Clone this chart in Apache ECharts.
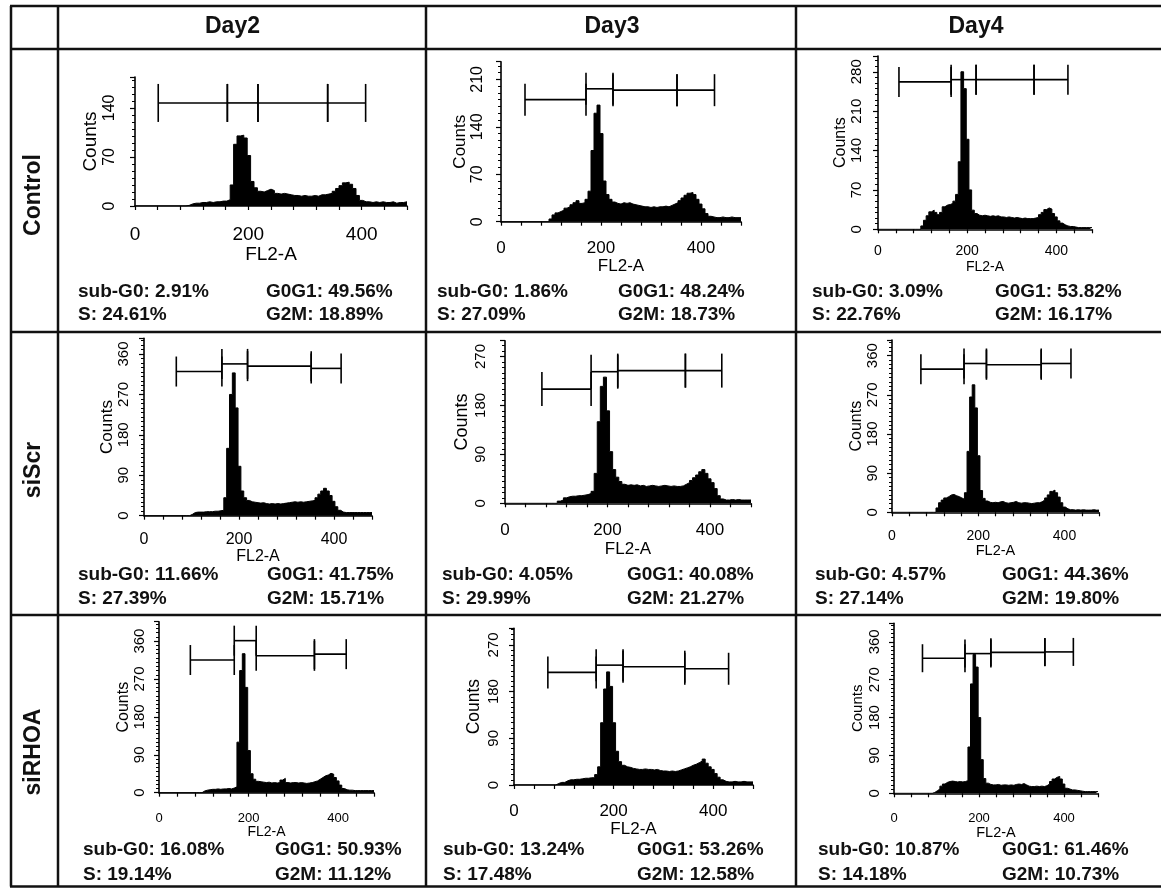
<!DOCTYPE html>
<html><head><meta charset="utf-8">
<script src="https://cdn.jsdelivr.net/npm/echarts@6/dist/echarts.min.js"></script>
<style>html,body{margin:0;padding:0;background:#fff}#c{width:1161px;height:888px}</style>
</head><body><div id="c"></div>
<script>
// ---------- categories ----------
const days = ['Day2', 'Day3', 'Day4'];
const groups = ['Control', 'siScr', 'siRHOA'];

// ---------- histogram bins (FL2-A) ----------
const binStart = 84;      // first bin left edge
const binWidth = 6;       // FL2-A units per bin
const xMax = 480;

// counts per bin
const hControlDay2 = [0,1,3,4,4,5,5,6,5,6,6,7,7,9,30,88,100,101,97,72,35,26,21,20,22,24,22,18,17,18,17,16,15,15,14,15,14,14,15,14,16,16,17,18,21,25,29,33,34,31,25,15,8,6,6,5,6,5,6,5,5,6,4,5,5,6];
const hControlDay3 = [0,0,4,10,13,15,17,20,22,25,28,31,27,28,33,45,105,160,172,130,60,40,33,29,27,26,28,27,28,26,25,24,23,22,22,21,22,21,22,22,23,22,24,26,28,31,35,39,42,43,40,33,26,19,12,8,7,6,6,7,6,6,7,6,6,6];
const hControlDay4 = [0,0,6,16,24,31,34,30,26,30,40,43,44,46,50,62,120,280,250,160,70,34,28,25,24,25,24,23,24,23,24,22,22,21,22,21,20,21,20,19,20,19,19,19,20,21,26,30,35,38,36,28,22,15,11,8,6,5,5,4,3,3,3,3,3,3];
const hSiScrDay2 = [0,0,3,7,8,8,8,9,9,9,10,10,11,12,40,150,270,318,240,110,55,40,34,31,30,29,28,29,27,26,27,26,27,26,27,28,29,30,31,30,31,30,31,32,33,34,40,48,55,61,55,45,32,20,12,8,7,7,7,7,7,7,7,7,7,7];
const hSiScrDay3 = [0,0,0,4,6,10,12,13,13,14,14,15,16,18,22,55,150,215,232,170,95,62,48,40,35,33,34,33,34,32,33,31,32,33,32,31,32,33,32,31,32,31,31,32,35,38,42,47,52,58,62,55,45,38,27,14,8,6,6,7,6,7,6,6,6,6];
const hSiScrDay4 = [0,0,0,10,22,28,33,36,40,41,38,36,33,30,45,140,265,293,240,130,50,32,26,23,22,23,22,24,25,22,21,22,23,25,22,21,22,22,21,20,21,22,22,24,28,33,40,48,51,45,35,22,12,8,6,6,5,6,5,6,5,5,5,6,5,5];
const hSiRHOADay2 = [0,0,4,6,7,8,8,9,8,9,9,10,9,11,14,120,290,330,250,100,45,32,27,26,25,24,25,23,24,23,24,30,34,24,23,24,24,23,24,23,22,23,24,26,28,32,36,40,42,46,44,36,28,18,10,7,6,6,5,5,5,5,5,5,5,5];
const hSiRHOADay3 = [3,5,5,8,10,10,11,11,12,13,13,14,14,20,35,120,185,218,190,120,65,45,38,35,34,32,31,30,30,31,30,30,29,30,28,27,27,26,27,26,27,29,31,33,35,38,40,43,46,50,42,35,30,22,15,10,7,6,6,7,6,6,7,6,6,6];
const hSiRHOADay4 = [0,2,6,10,17,22,26,28,29,28,27,28,27,28,30,110,260,330,300,180,80,35,24,21,20,20,21,19,20,20,19,20,19,21,22,21,23,20,17,16,16,17,16,17,16,18,22,28,34,38,40,34,22,12,10,8,8,7,6,5,4,4,4,4,4,4];
const histograms = [hControlDay2, hControlDay3, hControlDay4, hSiScrDay2, hSiScrDay3, hSiScrDay4, hSiRHOADay2, hSiRHOADay3, hSiRHOADay4];

// ---------- y axis ranges / tick labels ----------
const yMax = [184, 236, 308, 395, 299, 396, 406, 302, 404];
const yStep = [70, 70, 70, 90, 90, 90, 90, 90, 90];
const xTickStep = 40;
const xLabelStep = 200;

// ---------- gates: boundaries (FL2-A) and marker heights (Counts) ----------
const gateBounds = [
  [41, 163, 217, 340, 407],
  [48, 170, 224, 352, 427],
  [47, 164, 220, 350, 426],
  [68, 164, 218, 352, 415],
  [72, 168, 220, 352, 423],
  [67, 167, 219, 346, 415],
  [70, 168, 217, 347, 418],
  [68, 165, 219, 343, 431],
  [67, 167, 228, 355, 422]
];
const gateLevels = [
  [147, 147, 147, 147],
  [180, 196, 194, 194],
  [262, 266, 266, 266],
  [321, 338, 333, 328],
  [210, 242, 244, 244],
  [329, 342, 339, 342],
  [315, 361, 325, 329],
  [217, 231, 228, 224],
  [321, 332, 335, 336]
];

// ---------- cell statistics (%) rows: groups, cols: days ----------
const subG0 = [[2.91, 1.86, 3.09], [11.66, 4.05, 4.57], [16.08, 13.24, 10.87]];
const g0g1  = [[49.56, 48.24, 53.82], [41.75, 40.08, 44.36], [50.93, 53.26, 61.46]];
const sPh   = [[24.61, 27.09, 22.76], [27.39, 29.99, 27.14], [19.14, 17.48, 14.18]];
const g2m   = [[18.89, 18.73, 16.17], [15.71, 21.27, 19.80], [11.12, 12.58, 10.73]];

// ---------- layout (pixels / styles) ----------
const FONT = '"Liberation Sans", Arial, Helvetica, sans-serif';
const panels = [
  {x0:135, x1:407, top:77,    y0:206,   fx:19, fn:19,   fc:19,   fy:16, mx:19.5, gx:39.5, my:17.5, gy:34,   th:19},
  {x0:501, x1:741, top:61.7,  y0:221.7, fx:17, fn:17,   fc:17,   fy:16, mx:18,   gx:36.5, my:15.3, gy:31,   th:16},
  {x0:878, x1:1092,top:56,    y0:229.3, fx:14, fn:14,   fc:16,   fy:15, mx:14.4, gx:31,   my:13.2, gy:26,   th:15},
  {x0:144, x1:372, top:338.3, y0:515.7, fx:16, fn:16,   fc:17,   fy:15, mx:15.6, gx:33,   my:12.5, gy:28,   th:15},
  {x0:505, x1:751, top:340.7, y0:503.3, fx:17, fn:17,   fc:18,   fy:15, mx:18.2, gx:37.5, my:16.5, gy:33.5, th:17},
  {x0:892, x1:1099,top:340,   y0:512.3, fx:14, fn:14.5, fc:16,   fy:15, mx:16.7, gx:31,   my:11.2, gy:27,   th:15},
  {x0:159, x1:374, top:621.7, y0:792.7, fx:13, fn:14,   fc:16,   fy:15, mx:19,   gx:31,   my:11.9, gy:27.5, th:15},
  {x0:514, x1:753, top:628.3, y0:785,   fx:17, fn:17,   fc:17.5, fy:15, mx:17.5, gx:35,   my:12.5, gy:31,   th:16},
  {x0:894, x1:1098,top:623.3, y0:793.3, fx:13, fn:14.5, fc:15,   fy:15, mx:18.5, gx:29.5, my:11.9, gy:29,   th:14}
];
const statPos = [ // [leftX, rightX, row1Y, row2Y]
  [78, 266, 292, 315], [437, 618, 292, 315], [812, 995, 292, 315],
  [78, 267, 575, 599], [442, 627, 575, 599], [815, 1002, 575, 599],
  [83, 275, 850, 875], [443, 637, 850, 875], [818, 1002, 850, 875]
];
const headerX = [232.5, 612, 976], headerY = 27;
const rowLabelX = 34, rowLabelY = [195, 470, 752];
const hLines = [6, 49, 332, 615, 886.5];
const vLines = [11, 58, 426, 796];

// ---------- build option ----------
const grid = [], xAxis = [], yAxis = [], series = [];
panels.forEach((p, i) => {
  grid.push({left: p.x0, top: p.top, width: p.x1 - p.x0, height: p.y0 - p.top, containLabel: false});
  xAxis.push({
    type: 'value', gridIndex: i, min: 0, max: xMax, interval: xTickStep,
    axisLine: {show: true, onZero: false, lineStyle: {color: '#000', width: 1.6}},
    axisTick: {show: true, length: 4, lineStyle: {color: '#000', width: 1.2}},
    axisLabel: {color: '#000', fontSize: p.fx, fontFamily: FONT, margin: p.mx,
      formatter: v => (v % xLabelStep === 0 ? String(v) : '')},
    splitLine: {show: false},
    name: 'FL2-A', nameLocation: 'middle', nameGap: p.gx,
    nameTextStyle: {color: '#000', fontSize: p.fn, fontFamily: FONT}
  });
  const step = yStep[i];
  yAxis.push({
    type: 'value', gridIndex: i, min: 0, max: yMax[i], interval: step,
    axisLine: {show: true, onZero: false, lineStyle: {color: '#000', width: 1.6}},
    axisTick: {show: true, length: 5, lineStyle: {color: '#000', width: 1.2}},
    minorTick: {show: true, splitNumber: step / 10, length: 3, lineStyle: {color: '#000', width: 1}},
    axisLabel: {color: '#000', fontSize: p.fy, fontFamily: FONT, margin: p.my, rotate: 90,
      formatter: v => (v % step === 0 ? String(v) : '')},
    splitLine: {show: false}, minorSplitLine: {show: false},
    name: 'Counts', nameLocation: 'middle', nameGap: p.gy, nameRotate: 90,
    nameTextStyle: {color: '#000', fontSize: p.fc, fontFamily: FONT}
  });
  const h = histograms[i];
  const pts = [[0, 0]];
  h.forEach((v, k) => pts.push([binStart + k * binWidth, v]));
  pts.push([xMax, h[h.length - 1]]);
  series.push({
    type: 'line', xAxisIndex: i, yAxisIndex: i, step: 'end', data: pts,
    symbol: 'none', silent: true, animation: false,
    itemStyle: {color: '#000'},
    lineStyle: {color: '#000', width: 1},
    areaStyle: {color: '#000', opacity: 1}
  });
  const gb = gateBounds[i], gl = gateLevels[i];
  const gates = gl.map((lv, k) => [gb[k], gb[k + 1], lv]);
  const tickH = p.th;
  series.push({
    type: 'custom', xAxisIndex: i, yAxisIndex: i, data: gates, silent: true, animation: false,
    clip: false, encode: {x: [0, 1], y: 2},
    renderItem: (params, api) => {
      const a = api.coord([api.value(0), api.value(2)]);
      const b = api.coord([api.value(1), api.value(2)]);
      const st = {stroke: '#000', lineWidth: 1.6};
      return {type: 'group', children: [
        {type: 'line', shape: {x1: a[0], y1: a[1], x2: b[0], y2: b[1]}, style: st},
        {type: 'line', shape: {x1: a[0], y1: a[1] - tickH, x2: a[0], y2: a[1] + tickH}, style: st},
        {type: 'line', shape: {x1: b[0], y1: b[1] - tickH, x2: b[0], y2: b[1] + tickH}, style: st}
      ]};
    }
  });
});

// ---------- table graphics ----------
const graphic = [];
hLines.forEach(y => graphic.push({type: 'line', shape: {x1: vLines[0] - 1, y1: y, x2: 1161, y2: y},
  style: {stroke: '#111', lineWidth: 2.5}, silent: true}));
vLines.forEach(x => graphic.push({type: 'line', shape: {x1: x, y1: hLines[0], x2: x, y2: hLines[hLines.length - 1]},
  style: {stroke: '#111', lineWidth: 2.5}, silent: true}));
days.forEach((d, j) => graphic.push({type: 'text', x: headerX[j], y: headerY, silent: true,
  style: {text: d, fill: '#111', font: 'bold 23px ' + FONT, align: 'center', verticalAlign: 'middle'}}));
groups.forEach((g, r) => graphic.push({type: 'text', x: rowLabelX, y: rowLabelY[r], rotation: Math.PI / 2, silent: true,
  style: {text: g, fill: '#111', font: 'bold 23px ' + FONT, align: 'center', verticalAlign: 'middle'}}));
const fmt = v => v.toFixed(2) + '%';
groups.forEach((g, r) => days.forEach((d, j) => {
  const sp = statPos[r * 3 + j];
  const st = (t, x, y) => ({type: 'text', x: x, y: y, silent: true,
    style: {text: t, fill: '#111', font: 'bold 19px ' + FONT, align: 'left', verticalAlign: 'middle'}});
  graphic.push(st('sub-G0: ' + fmt(subG0[r][j]), sp[0], sp[2]));
  graphic.push(st('G0G1: ' + fmt(g0g1[r][j]), sp[1], sp[2]));
  graphic.push(st('S: ' + fmt(sPh[r][j]), sp[0], sp[3]));
  graphic.push(st('G2M: ' + fmt(g2m[r][j]), sp[1], sp[3]));
}));

const chart = echarts.init(document.getElementById('c'), null, {renderer: 'canvas'});
chart.setOption({
  animation: false,
  backgroundColor: '#fff',
  grid, xAxis, yAxis, series, graphic
});
</script>
</body></html>
